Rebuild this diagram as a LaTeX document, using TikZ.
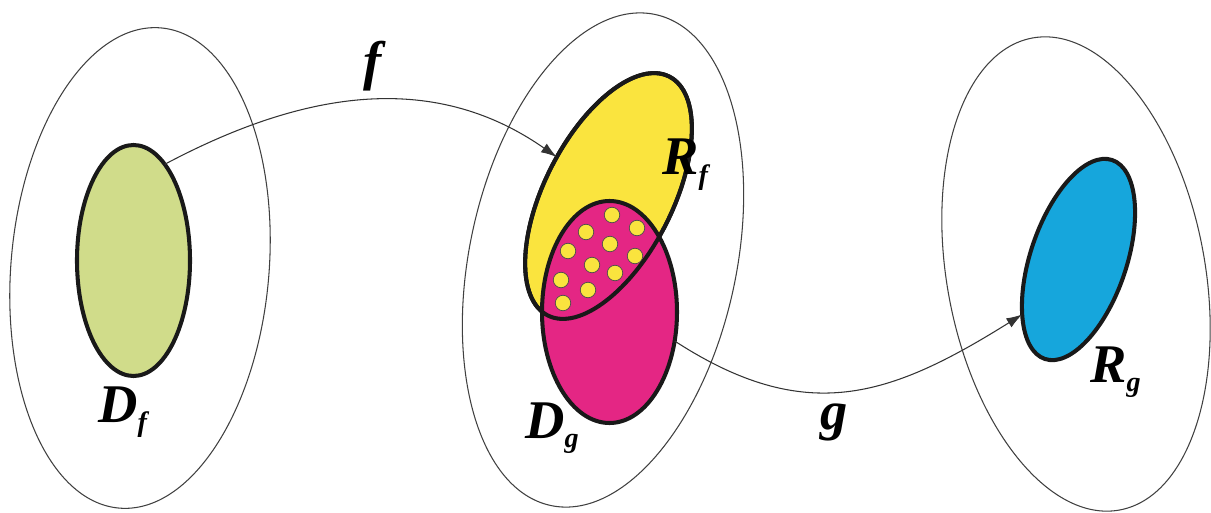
\documentclass[tikz,border=0pt]{standalone}
\usepackage{fontspec}
\setmainfont{Liberation Serif}[BoldFont={Liberation Serif Bold},ItalicFont={Liberation Serif Italic},BoldItalicFont={Liberation Serif Bold Italic}]
\usetikzlibrary{arrows.meta,shapes.geometric}
\definecolor{dfgreen}{RGB}{208,220,138}
\definecolor{rfyellow}{RGB}{250,228,62}
\definecolor{dgmagenta}{RGB}{228,38,132}
\definecolor{rgblue}{RGB}{22,166,220}
\newcommand{\setlabel}[2]{#1\raisebox{-5.5pt}{\fontsize{16}{16}\selectfont #2}}

\begin{document}
\begin{tikzpicture}[>={Latex[length=9pt,width=6pt]},
  universe/.style={ellipse,draw=black!75,line width=0.6pt,inner sep=0pt,outer sep=0pt},
  region/.style={ellipse,draw=black!90,line width=2.3pt,inner sep=0pt,outer sep=0pt},
  mapto/.style={->,draw=black!80,line width=0.6pt},
  lab/.style={inner sep=0pt,font=\fontsize{31}{31}\selectfont\bfseries\itshape}]
  \useasboundingbox (0,0) rectangle (24.22,10.24);
  % the three sets
  \node[universe,minimum width=5.16cm,minimum height=9.64cm,rotate=-5]   (X) at (2.80,4.88)  {};
  \node[universe,minimum width=5.34cm,minimum height=10.04cm,rotate=-12] (Y) at (12.06,5.04) {};
  \node[universe,minimum width=5.16cm,minimum height=9.60cm,rotate=10.5] (Z) at (21.52,4.76) {};
  % domains and ranges
  \node[region,fill=dfgreen,minimum width=2.26cm,minimum height=4.62cm] (Df) at (2.67,5.03) {};
  \node[region,fill=rfyellow,minimum width=5.36cm,minimum height=2.56cm,rotate=63] (Rf) at (12.17,6.32) {};
  \node[region,fill=dgmagenta,minimum width=2.70cm,minimum height=4.44cm] (Dg) at (12.19,4.00) {};
  \node[region,fill=rgblue,minimum width=4.20cm,minimum height=1.92cm,rotate=71.3] (Rg) at (21.57,5.05) {};
  % common part
  \foreach \p in {(12.24,5.94),(12.74,5.68),(11.72,5.60),(12.20,5.36),(11.36,5.22),(12.70,5.12),
                  (11.84,4.94),(12.30,4.78),(11.22,4.64),(11.76,4.44),(11.26,4.18)}
    \filldraw[fill=rfyellow,draw=black!70,line width=0.4pt] \p circle (0.155);
  \node[region,minimum width=5.36cm,minimum height=2.56cm,rotate=63] (Rfrim) at (Rf.center) {};
  % maps
  \draw[mapto] (Df.72) to[out=28,in=145] (Rf.80);
  \draw[mapto] (Dg.-24) to[out=-33,in=212,looseness=1.15] (Rg.153);
  % labels
  \node[lab] (f) at (7.46,8.92) {f};
  \node[lab] (g) at (16.68,1.80) {g};
  \node[lab,anchor=base west] (Dflab) at (1.96,1.80)  {\setlabel{D}{f}};
  \node[lab,anchor=base west] (Rflab) at (13.24,6.74) {\setlabel{R}{f}};
  \node[lab,anchor=base west] (Dglab) at (10.50,1.48) {\setlabel{D}{g}};
  \node[lab,anchor=base west] (Rglab) at (21.80,2.60) {\setlabel{R}{g}};
\end{tikzpicture}
\end{document}
